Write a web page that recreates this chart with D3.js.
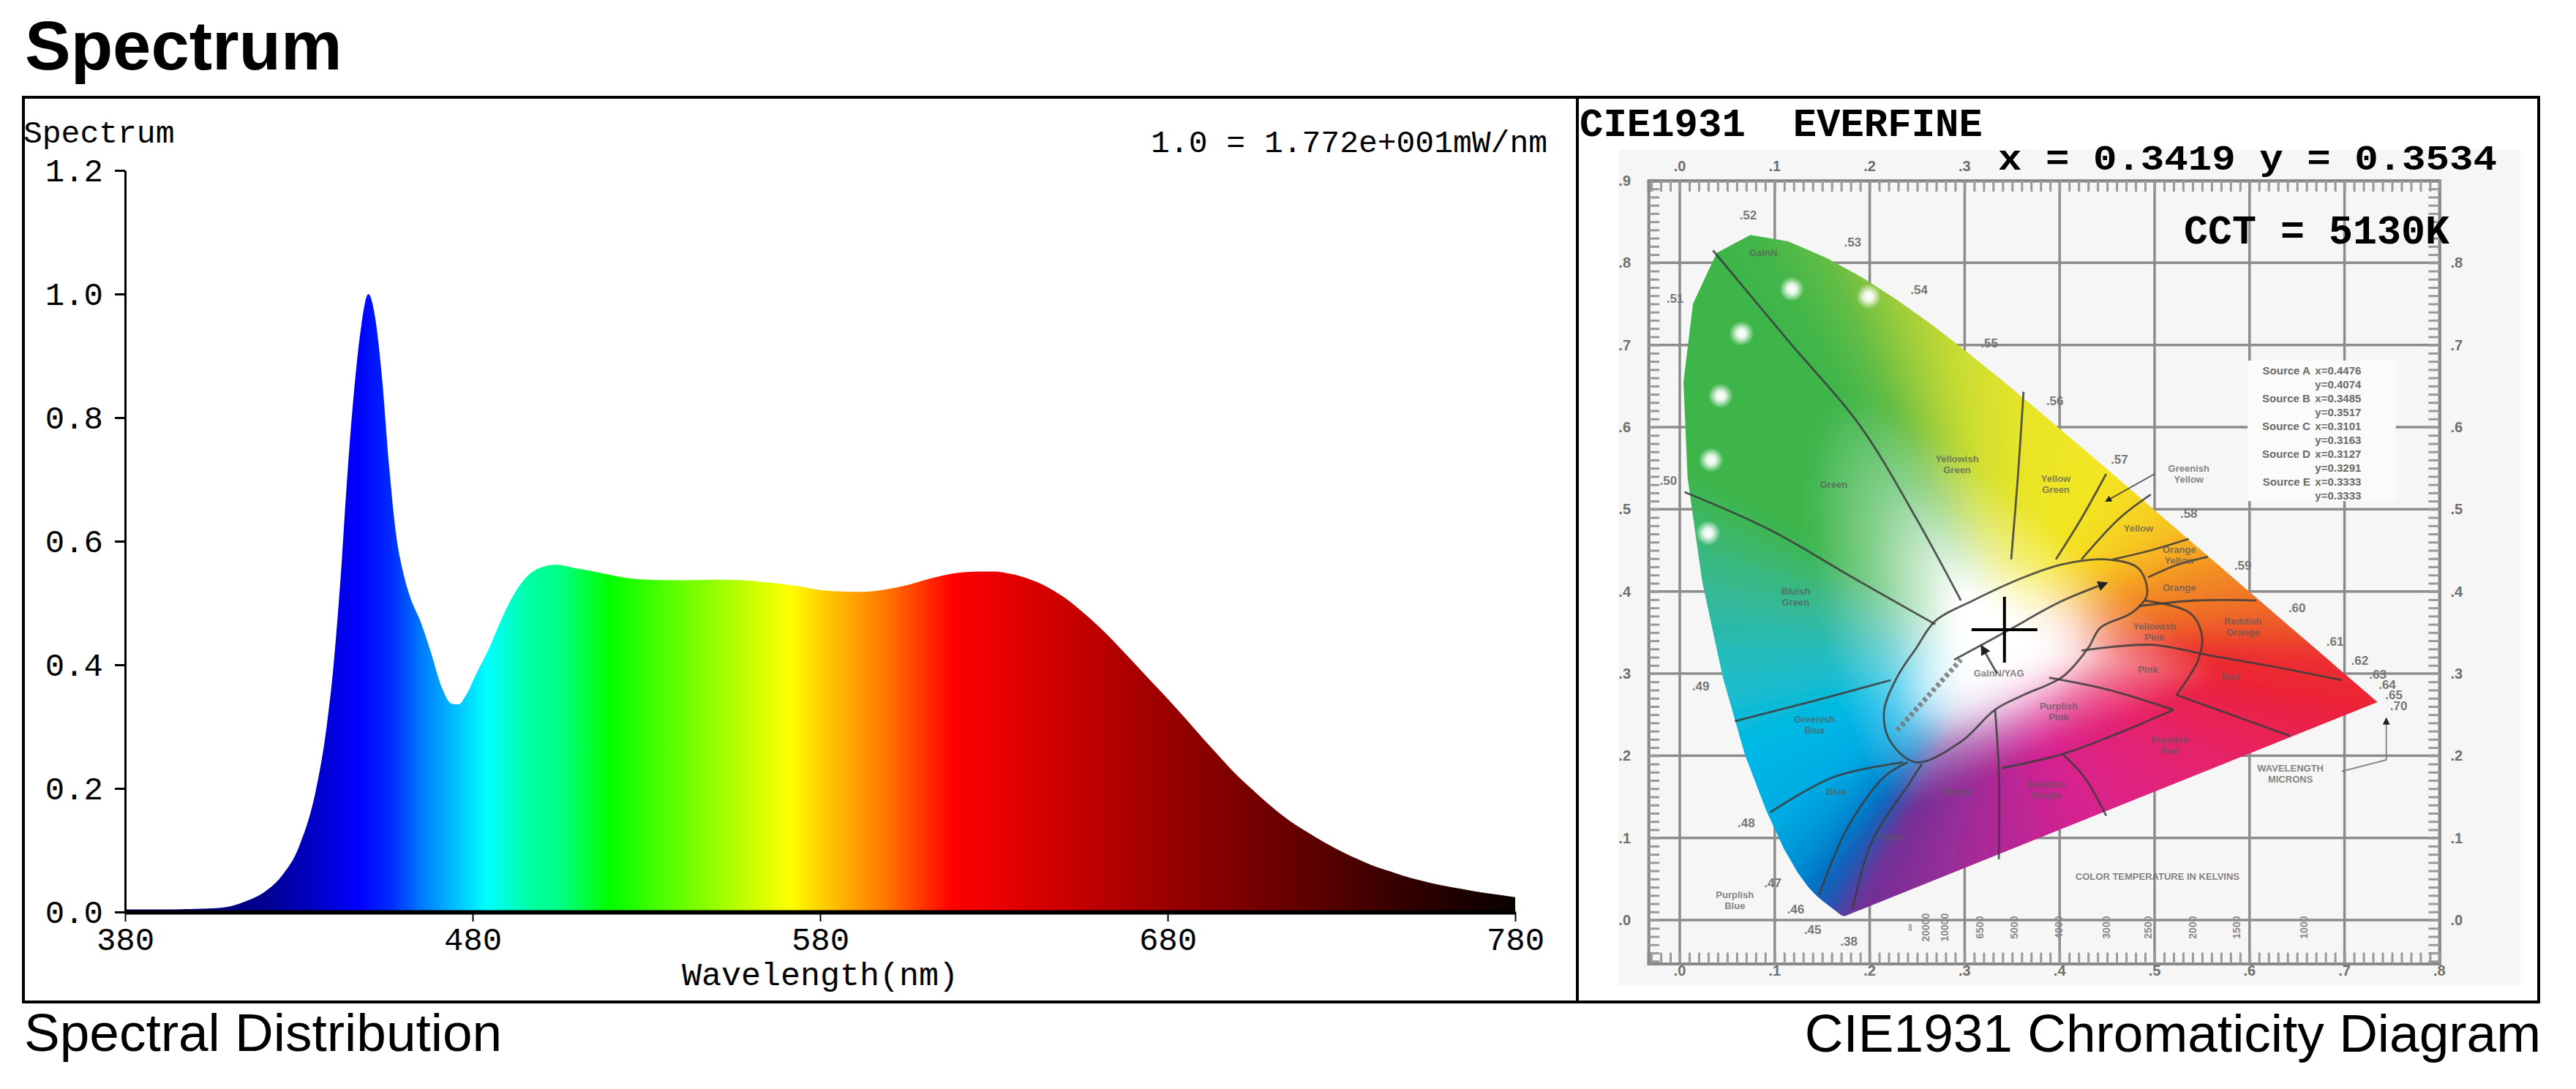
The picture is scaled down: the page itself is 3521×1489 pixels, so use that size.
<!DOCTYPE html>
<html>
<head>
<meta charset="utf-8">
<script src="https://cdn.jsdelivr.net/npm/d3@7"></script>
<style>
  body { margin: 0; background: #fff; }
  svg { display: block; }
</style>
</head>
<body>
<svg id="chart" width="3521" height="1489"></svg>
<script>
// ---------- spectral distribution
const wavelengths = [380, 390, 400, 405, 410, 415, 420, 425, 430, 435, 438, 440, 442, 444, 446, 448, 450,
  452, 454, 456, 458, 460, 462, 465, 468, 471, 474, 476, 478, 481, 485, 488, 492, 496, 500, 504,
  510, 515, 520, 525, 530, 535, 540, 550, 560, 565, 570, 575, 580, 585, 590, 595, 600, 605, 610,
  615, 620, 625, 630, 635, 640, 645, 650, 655, 660, 665, 670, 675, 680, 685, 690, 695, 700, 705,
  710, 715, 720, 725, 730, 735, 740, 745, 750, 755, 760, 765, 770, 775, 780];
const intensity = [0.004, 0.004, 0.005, 0.006, 0.009, 0.018, 0.032, 0.058, 0.105, 0.20, 0.30, 0.40, 0.54, 0.71, 0.85, 0.95, 1.00,
  0.96, 0.86, 0.72, 0.61, 0.55, 0.51, 0.47, 0.42, 0.365, 0.337, 0.336, 0.350, 0.385, 0.43, 0.47, 0.515, 0.545, 0.558, 0.562,
  0.556, 0.551, 0.545, 0.540, 0.538, 0.537, 0.537, 0.538, 0.536, 0.533, 0.530, 0.526, 0.521, 0.519, 0.518, 0.519, 0.523, 0.529, 0.537,
  0.544, 0.549, 0.551, 0.551, 0.547, 0.539, 0.527, 0.510, 0.488, 0.463, 0.435, 0.405, 0.375, 0.345, 0.314, 0.282, 0.251, 0.221, 0.195,
  0.170, 0.148, 0.130, 0.113, 0.098, 0.085, 0.073, 0.064, 0.055, 0.048, 0.042, 0.037, 0.032, 0.028, 0.024];
const specTicksY = [0, 0.2, 0.4, 0.6, 0.8, 1.0, 1.2];
const specTicksX = [380, 480, 580, 680, 780];

// colour of the fill under the curve, by wavelength
const specColorW = [380, 420, 435, 447, 456, 466, 474, 484, 497, 506, 519, 547, 571, 590, 600, 618, 650, 680, 720, 750, 780];
const specColorC = ['#000068', '#000090', '#0000c8', '#0000ff', '#0028ff', '#0080ff', '#00b8ff', '#00ffff', '#00ffa0', '#00ff80',
  '#00ff00', '#88ff00', '#ffff00', '#ffa000', '#ff7000', '#ff0000', '#cc0000', '#990000', '#600000', '#300000', '#0a0000'];

// ---------- CIE 1931 spectral locus
const locusW = [380, 385, 390, 395, 400, 405, 410, 415, 420, 425, 430, 435, 440, 445, 450, 455, 460, 465, 470, 475,
  480, 485, 490, 495, 500, 505, 510, 515, 520, 525, 530, 535, 540, 545, 550, 555, 560, 565, 570, 575, 580, 585,
  590, 595, 600, 605, 610, 615, 620, 625, 630, 635, 640, 645, 650, 655, 660, 665, 670, 675, 680, 685, 690, 695, 700];
const locusX = [0.1741, 0.1740, 0.1738, 0.1736, 0.1733, 0.1730, 0.1726, 0.1721, 0.1714, 0.1703, 0.1689, 0.1669, 0.1644, 0.1611,
  0.1566, 0.1510, 0.1440, 0.1355, 0.1241, 0.1096, 0.0913, 0.0687, 0.0454, 0.0235, 0.0082, 0.0039, 0.0139, 0.0389, 0.0743,
  0.1142, 0.1547, 0.1929, 0.2296, 0.2658, 0.3016, 0.3373, 0.3731, 0.4087, 0.4441, 0.4788, 0.5125, 0.5448, 0.5752, 0.6029,
  0.6270, 0.6482, 0.6658, 0.6801, 0.6915, 0.7006, 0.7079, 0.7140, 0.7190, 0.7230, 0.7260, 0.7283, 0.7300, 0.7311, 0.7320,
  0.7327, 0.7334, 0.7340, 0.7344, 0.7346, 0.7347];
const locusY = [0.0050, 0.0050, 0.0049, 0.0049, 0.0048, 0.0048, 0.0048, 0.0048, 0.0051, 0.0058, 0.0069, 0.0086, 0.0109, 0.0138,
  0.0177, 0.0227, 0.0297, 0.0399, 0.0578, 0.0868, 0.1327, 0.2007, 0.2950, 0.4127, 0.5384, 0.6548, 0.7502, 0.8120, 0.8338,
  0.8262, 0.8059, 0.7816, 0.7543, 0.7243, 0.6923, 0.6589, 0.6245, 0.5896, 0.5547, 0.5202, 0.4866, 0.4544, 0.4242, 0.3965,
  0.3725, 0.3514, 0.3340, 0.3197, 0.3083, 0.2993, 0.2920, 0.2859, 0.2809, 0.2770, 0.2740, 0.2717, 0.2700, 0.2689, 0.2680,
  0.2673, 0.2666, 0.2660, 0.2654, 0.2654, 0.2653];

// printed colour of the diagram along the locus and along the purple line
const cieHueW = [380, 440, 460, 470, 478, 485, 490, 495, 500, 520, 530, 540, 550, 560, 570, 575, 580, 585, 590, 600, 610, 620, 700];
const cieHueC = ['#6a3096', '#3a46a8', '#0a64bc', '#0088d0', '#00a8e2', '#00b8e6', '#20bcc8', '#38b890', '#3cb54a', '#3fb54a',
  '#60bc44', '#9ccc3c', '#cede30', '#e8e428', '#f2e622', '#f5dc20', '#f6c820', '#f5a824', '#f28a24', '#ee6428', '#ec3e2c',
  '#ec2a30', '#ec2233'];
const purpleT = [0, 0.3, 0.55, 0.8, 1];
const purpleC = ['#ec2233', '#e6206a', '#d82090', '#9a2c98', '#6a3096'];

const measured = { x: 0.3419, y: 0.3534 };

const cieXLabels = ['.0', '.1', '.2', '.3', '.4', '.5', '.6', '.7', '.8'];
const cieYLabels = ['.0', '.1', '.2', '.3', '.4', '.5', '.6', '.7', '.8', '.9'];

// wavelength marks printed round the locus
const waveMarks = [['.52', 0.072, 0.858], ['.53', 0.182, 0.825], ['.54', 0.252, 0.767], ['.55', 0.326, 0.702],
  ['.56', 0.395, 0.632], ['.57', 0.463, 0.561], ['.58', 0.536, 0.495], ['.59', 0.593, 0.432], ['.60', 0.650, 0.380],
  ['.61', 0.690, 0.339], ['.62', 0.716, 0.316], ['.63', 0.735, 0.299], ['.64', 0.745, 0.287], ['.65', 0.752, 0.274],
  ['.70', 0.757, 0.261], ['.51', -0.005, 0.757], ['.50', -0.012, 0.535], ['.49', 0.022, 0.285], ['.48', 0.070, 0.118],
  ['.47', 0.098, 0.045], ['.46', 0.122, 0.013], ['.45', 0.140, -0.012], ['.38', 0.178, -0.026]];

// colour region names of the chart
const regionNames = [['GaInN', 0.088, 0.808], ['Green', 0.162, 0.526], ['Yellowish\nGreen', 0.292, 0.557],
  ['Yellow\nGreen', 0.396, 0.533], ['Greenish\nYellow', 0.536, 0.546], ['Yellow', 0.483, 0.473],
  ['Orange\nYellow', 0.526, 0.447], ['Orange', 0.526, 0.401], ['Reddish\nOrange', 0.593, 0.360],
  ['Yellowish\nPink', 0.500, 0.353], ['Pink', 0.493, 0.301], ['Red', 0.580, 0.292], ['Purplish\nPink', 0.399, 0.256],
  ['Purplish\nRed', 0.516, 0.215], ['Reddish\nPurple', 0.386, 0.161], ['Purple', 0.292, 0.152], ['Violet', 0.222, 0.097],
  ['Blue', 0.165, 0.152], ['Greenish\nBlue', 0.142, 0.240], ['Bluish\nGreen', 0.122, 0.396], ['Purplish\nBlue', 0.058, 0.027],
  ['GaInN/YAG', 0.336, 0.296], ['WAVELENGTH\nMICRONS', 0.643, 0.181], ['COLOR TEMPERATURE IN KELVINS', 0.503, 0.049]];

// boundaries between colour regions, in chromaticity units
const regionLines = [
  [[0.035, 0.815], [0.115, 0.704], [0.189, 0.603], [0.249, 0.489], [0.296, 0.389]],
  [[0.005, 0.521], [0.095, 0.475], [0.182, 0.417], [0.269, 0.360]],
  [[0.058, 0.242], [0.142, 0.267], [0.222, 0.292]],
  [[0.095, 0.131], [0.162, 0.174], [0.235, 0.192]],
  [[0.147, 0.031], [0.175, 0.109], [0.215, 0.174], [0.240, 0.192]],
  [[0.182, 0.013], [0.202, 0.095], [0.242, 0.167], [0.255, 0.190]],
  [[0.336, 0.074], [0.336, 0.181], [0.332, 0.256]],
  [[0.449, 0.127], [0.426, 0.174], [0.403, 0.202]],
  [[0.339, 0.185], [0.403, 0.202], [0.463, 0.228], [0.520, 0.256]],
  [[0.523, 0.274], [0.583, 0.249], [0.643, 0.224]],
  [[0.423, 0.328], [0.496, 0.335], [0.563, 0.321], [0.637, 0.306], [0.697, 0.292]],
  [[0.490, 0.389], [0.537, 0.374], [0.550, 0.346], [0.546, 0.317], [0.523, 0.274]],
  [[0.389, 0.295], [0.449, 0.281], [0.520, 0.256]],
  [[0.483, 0.382], [0.543, 0.389], [0.607, 0.389]],
  [[0.493, 0.417], [0.523, 0.432], [0.556, 0.442]],
  [[0.456, 0.439], [0.496, 0.450], [0.536, 0.464]],
  [[0.423, 0.439], [0.463, 0.489], [0.496, 0.518]],
  [[0.396, 0.439], [0.423, 0.489], [0.449, 0.543]],
  [[0.349, 0.439], [0.356, 0.539], [0.362, 0.643]]
];
const whiteLoop = [[0.269, 0.364], [0.309, 0.389], [0.362, 0.417], [0.403, 0.433], [0.449, 0.439], [0.483, 0.428],
  [0.492, 0.396], [0.476, 0.374], [0.443, 0.356], [0.430, 0.331], [0.403, 0.296], [0.362, 0.274], [0.332, 0.256],
  [0.296, 0.217], [0.249, 0.192], [0.222, 0.217], [0.215, 0.253], [0.229, 0.296], [0.249, 0.331]];
const planckLine = [[0.289, 0.317], [0.345, 0.352], [0.400, 0.387], [0.449, 0.410]];
const daylightLine = [[0.229, 0.231], [0.296, 0.317]];

const sourceNames = ['Source A', '', 'Source B', '', 'Source C', '', 'Source D', '', 'Source E', ''];
const sourceValues = ['x=0.4476', 'y=0.4074', 'x=0.3485', 'y=0.3517', 'x=0.3101', 'y=0.3163', 'x=0.3127', 'y=0.3291', 'x=0.3333', 'y=0.3333'];

const cctMarks = ['\u221e', '20000', '10000', '6500', '5000', '4000', '3000', '2500', '2000', '1500', '1000'];
const cctMarkX = [0.242, 0.259, 0.279, 0.316, 0.352, 0.399, 0.449, 0.493, 0.540, 0.586, 0.657];

const ledDots = [[0.118, 0.768], [0.199, 0.759], [0.065, 0.714], [0.043, 0.638], [0.033, 0.560], [0.030, 0.471]];

// ---------- drawing
const svg = d3.select('#chart');
const defs = svg.append('defs');
const sans = '"Liberation Sans", Arial, sans-serif';
const mono = '"Liberation Mono", "Courier New", monospace';

svg.append('rect').attr('width', 3521).attr('height', 1489).attr('fill', '#fff');

// page title and captions
svg.append('text').attr('x', 34).attr('y', 95).attr('font-family', sans).attr('font-weight', 'bold')
  .attr('font-size', 94).text('Spectrum');
svg.append('text').attr('x', 33).attr('y', 1437).attr('font-family', sans).attr('font-size', 73)
  .text('Spectral Distribution');
svg.append('text').attr('x', 3473).attr('y', 1438).attr('font-family', sans).attr('font-size', 73)
  .attr('text-anchor', 'end').text('CIE1931 Chromaticity Diagram');

// ---------- left: spectrum
const x = d3.scaleLinear().domain([380, 780]).range([171, 2071]);
const y = d3.scaleLinear().domain([0, 1.2]).range([1247, 233]);

const specGrad = defs.append('linearGradient').attr('id', 'specFill')
  .attr('gradientUnits', 'userSpaceOnUse')
  .attr('x1', x(380)).attr('x2', x(780)).attr('y1', 0).attr('y2', 0);
specGrad.selectAll('stop').data(specColorW).join('stop')
  .attr('offset', w => (w - 380) / 400)
  .attr('stop-color', (w, i) => specColorC[i]);

const area = d3.area()
  .x(d => x(d[0]))
  .y0(y(0))
  .y1(d => y(d[1]))
  .curve(d3.curveMonotoneX);

svg.append('path')
  .datum(d3.zip(wavelengths, intensity))
  .attr('d', area)
  .attr('fill', 'url(#specFill)');

const yAxis = svg.append('g').attr('transform', `translate(${x(380)},0)`)
  .call(d3.axisLeft(y).tickValues(specTicksY).tickFormat(d3.format('.1f'))
    .tickSize(14).tickSizeOuter(0).tickPadding(16));
yAxis.selectAll('path, line').attr('stroke', '#000').attr('stroke-width', 3);
yAxis.selectAll('text').attr('font-family', mono).attr('font-size', 44).attr('fill', '#000');

const xAxis = svg.append('g').attr('transform', `translate(0,${y(0)})`)
  .call(d3.axisBottom(x).tickValues(specTicksX).tickFormat(d3.format('d'))
    .tickSize(13).tickSizeOuter(0).tickPadding(8));
xAxis.select('.domain').attr('stroke', '#000').attr('stroke-width', 6);
xAxis.selectAll('line').attr('stroke', '#000').attr('stroke-width', 2);
xAxis.selectAll('text').attr('font-family', mono).attr('font-size', 44).attr('fill', '#000');

svg.append('text').attr('x', 32).attr('y', 195).attr('font-family', mono).attr('font-size', 43).text('Spectrum');
svg.append('text').attr('x', 2115).attr('y', 208).attr('font-family', mono).attr('font-size', 43)
  .attr('text-anchor', 'end').text('1.0 = 1.772e+001mW/nm');
svg.append('text').attr('x', 1121).attr('y', 1347).attr('font-family', mono).attr('font-size', 45)
  .attr('text-anchor', 'middle').text('Wavelength(nm)');

// ---------- right: CIE 1931 chart
const cx = d3.scaleLinear().domain([0, 0.8]).range([2296, 3334.4]);
const cy = d3.scaleLinear().domain([0, 0.9]).range([1258, 247]);
const pt = d => [cx(d[0]), cy(d[1])];

const cie = svg.append('g');
cie.append('rect').attr('x', 2212).attr('y', 205).attr('width', 1233).attr('height', 1143).attr('fill', '#f6f6f6');

// grid
const grid = cie.append('g').attr('stroke', '#8c8c8c').attr('stroke-width', 3.5);
grid.selectAll('.gx').data(cieXLabels).join('line')
  .attr('x1', (d, i) => cx(i / 10)).attr('x2', (d, i) => cx(i / 10))
  .attr('y1', cy(-0.053)).attr('y2', cy(0.9));
grid.selectAll('.gy').data(cieYLabels).join('line')
  .attr('y1', (d, i) => cy(i / 10)).attr('y2', (d, i) => cy(i / 10))
  .attr('x1', cx(-0.033)).attr('x2', cx(0.8));

// rulers on the four frame edges
const cxF = d3.scaleLinear().domain([-0.033, 0.8]).range([cx(-0.033), cx(0.8)]);
const cyF = d3.scaleLinear().domain([-0.053, 0.9]).range([cy(-0.053), cy(0.9)]);
const fineX = d3.range(-3, 81).map(i => i / 100);
const fineY = d3.range(-5, 91).map(i => i / 100);
const rulers = [
  cie.append('g').attr('transform', `translate(${cx(-0.033)},0)`).call(d3.axisRight(cyF).tickValues(fineY).tickSize(15).tickFormat('')),
  cie.append('g').attr('transform', `translate(${cx(0.8)},0)`).call(d3.axisLeft(cyF).tickValues(fineY).tickSize(15).tickFormat('')),
  cie.append('g').attr('transform', `translate(0,${cy(-0.053)})`).call(d3.axisTop(cxF).tickValues(fineX).tickSize(15).tickFormat('')),
  cie.append('g').attr('transform', `translate(0,${cy(0.9)})`).call(d3.axisBottom(cxF).tickValues(fineX).tickSize(15).tickFormat(''))
];
rulers.forEach(r => {
  r.select('.domain').attr('stroke', '#888').attr('stroke-width', 4);
  r.selectAll('line').attr('stroke', '#999').attr('stroke-width', 3);
});

// frame labels
const frameText = cie.append('g').attr('font-family', sans).attr('font-weight', 'bold')
  .attr('font-size', 20).attr('fill', '#6e6e6e').attr('text-anchor', 'middle');
frameText.selectAll('.lb').data(cieXLabels).join('text')
  .attr('x', (d, i) => cx(i / 10)).attr('y', cy(-0.068)).text(d => d);
frameText.selectAll('.lt').data(cieXLabels.slice(0, 4)).join('text')
  .attr('x', (d, i) => cx(i / 10)).attr('y', cy(0.912)).text(d => d);
frameText.selectAll('.ll').data(cieYLabels).join('text')
  .attr('x', cx(-0.058)).attr('y', (d, i) => cy(i / 10) + 7).text(d => d);
frameText.selectAll('.lr').data(cieYLabels.slice(0, 9)).join('text')
  .attr('x', cx(0.818)).attr('y', (d, i) => cy(i / 10) + 7).text(d => d);

// source legend
cie.append('rect').attr('x', cx(0.598)).attr('y', cy(0.681)).attr('width', cx(0.754) - cx(0.598))
  .attr('height', cy(0.51) - cy(0.681)).attr('fill', '#fbfbfb');
const legend = cie.append('g').attr('font-family', sans).attr('font-weight', 'bold').attr('font-size', 15).attr('fill', '#6a6a6a');
legend.selectAll('.sn').data(sourceNames).join('text')
  .attr('x', cx(0.664)).attr('y', (d, i) => cy(0.664) + i * 19).attr('text-anchor', 'end').text(d => d);
legend.selectAll('.sv').data(sourceValues).join('text')
  .attr('x', cx(0.669)).attr('y', (d, i) => cy(0.664) + i * 19).text(d => d);

// coloured horseshoe: a fan of thin triangles from the white point, each shaded white -> printed colour
const hue = d3.scaleLinear().domain(cieHueW).range(cieHueC).interpolate(d3.interpolateRgb);
const purple = d3.scaleLinear().domain(purpleT).range(purpleC).interpolate(d3.interpolateRgb);
const edge = [];
locusW.forEach((w, i) => {
  if (i === locusW.length - 1) { edge.push({ p: [locusX[i], locusY[i]], c: hue(w) }); return; }
  // split each 5 nm step in three so the fan stays fine
  [0, 1 / 3, 2 / 3].forEach(t => edge.push({
    p: [locusX[i] + (locusX[i + 1] - locusX[i]) * t, locusY[i] + (locusY[i + 1] - locusY[i]) * t],
    c: hue(w + 5 * t)
  }));
});
const pEnd = edge[edge.length - 1].p, pStart = edge[0].p;
d3.range(1, 30).forEach(k => {
  const t = k / 30;
  edge.push({ p: [pEnd[0] + (pStart[0] - pEnd[0]) * t, pEnd[1] + (pStart[1] - pEnd[1]) * t], c: purple(t) });
});
const wp = [0.332, 0.338];
const grow = (p, f) => [wp[0] + (p[0] - wp[0]) * f, wp[1] + (p[1] - wp[1]) * f];

defs.append('clipPath').attr('id', 'locusClip').append('path')
  .attr('d', d3.line()(locusX.map((v, i) => pt([v, locusY[i]]))) + 'Z');
const soft = defs.append('filter').attr('id', 'soft').attr('x', '-10%').attr('y', '-10%').attr('width', '120%').attr('height', '120%');
soft.append('feGaussianBlur').attr('stdDeviation', 10);
const glow = defs.append('filter').attr('id', 'glow').attr('x', '-50%').attr('y', '-50%').attr('width', '200%').attr('height', '200%');
glow.append('feGaussianBlur').attr('stdDeviation', 30);

const fan = edge.map((e, i) => {
  const n = edge[(i + 1) % edge.length];
  const mid = [(e.p[0] + n.p[0]) / 2, (e.p[1] + n.p[1]) / 2];
  const c = d3.interpolateRgb(e.c, n.c)(0.5);
  return { a: grow(e.p, 1.12), b: grow(n.p, 1.12), mid, c, i };
});
fan.forEach(f => {
  const g = defs.append('linearGradient').attr('id', 'fan' + f.i).attr('gradientUnits', 'userSpaceOnUse')
    .attr('x1', cx(wp[0])).attr('y1', cy(wp[1])).attr('x2', cx(f.mid[0])).attr('y2', cy(f.mid[1]));
  [[0, '#ffffff'], [0.12, '#ffffff'], [0.38, d3.interpolateRgb('#fff', f.c)(0.62)], [0.6, f.c], [1, f.c]]
    .forEach(s => g.append('stop').attr('offset', s[0]).attr('stop-color', s[1]));
});
const colourArea = cie.append('g').attr('clip-path', 'url(#locusClip)');
const fanGroup = colourArea.append('g').attr('filter', 'url(#soft)');
fanGroup.selectAll('path').data(fan).join('path')
  .attr('d', f => d3.line()([pt(wp), pt(f.a), pt(f.b)]) + 'Z')
  .attr('fill', f => `url(#fan${f.i})`)
  .attr('stroke', f => `url(#fan${f.i})`)
  .attr('stroke-width', 2);
colourArea.append('ellipse')
  .attr('cx', cx(0.34)).attr('cy', cy(0.315)).attr('rx', 130).attr('ry', 62)
  .attr('transform', `rotate(-30,${cx(0.34)},${cy(0.315)})`)
  .attr('fill', '#fff').attr('opacity', 0.7).attr('filter', 'url(#glow)');

// LED dots
const dotGrad = defs.append('radialGradient').attr('id', 'dotGlow');
dotGrad.append('stop').attr('offset', 0).attr('stop-color', '#fff').attr('stop-opacity', 1);
dotGrad.append('stop').attr('offset', 0.35).attr('stop-color', '#fff').attr('stop-opacity', 0.9);
dotGrad.append('stop').attr('offset', 1).attr('stop-color', '#fff').attr('stop-opacity', 0);
colourArea.selectAll('.dot').data(ledDots).join('circle')
  .attr('cx', d => cx(d[0])).attr('cy', d => cy(d[1])).attr('r', 17).attr('fill', 'url(#dotGlow)');

// region boundaries
const lines = cie.append('g').attr('fill', 'none').attr('stroke', '#3c3c3c').attr('stroke-width', 2.8)
  .attr('stroke-opacity', 0.85).attr('stroke-linejoin', 'round');
const curve = d3.line().x(d => cx(d[0])).y(d => cy(d[1])).curve(d3.curveCatmullRom);
lines.selectAll('.rl').data(regionLines).join('path').attr('d', curve);
lines.append('path').datum(whiteLoop)
  .attr('d', d3.line().x(d => cx(d[0])).y(d => cy(d[1])).curve(d3.curveCatmullRomClosed));

defs.append('marker').attr('id', 'arrow').attr('viewBox', '0 0 10 10').attr('refX', 8).attr('refY', 5)
  .attr('markerWidth', 5).attr('markerHeight', 5).attr('orient', 'auto')
  .append('path').attr('d', 'M0,0L10,5L0,10Z').attr('fill', '#222');
lines.append('path').datum(planckLine).attr('d', curve).attr('marker-end', 'url(#arrow)');
lines.append('path').datum(daylightLine).attr('d', curve)
  .attr('stroke', '#777').attr('stroke-width', 7).attr('stroke-dasharray', '5 4');
lines.append('path').datum([[0.334, 0.300], [0.318, 0.333]]).attr('d', curve).attr('marker-end', 'url(#arrow)');
lines.append('path').datum([[0.500, 0.543], [0.449, 0.510]]).attr('d', curve).attr('marker-end', 'url(#arrow)')
  .attr('stroke-width', 1.8);
lines.append('path').datum([[0.697, 0.181], [0.744, 0.195], [0.744, 0.245]])
  .attr('d', d3.line().x(d => cx(d[0])).y(d => cy(d[1]))).attr('marker-end', 'url(#arrow)')
  .attr('stroke', '#777').attr('stroke-width', 2);

// chart annotations
const small = cie.append('g').attr('font-family', sans).attr('font-weight', 'bold').attr('fill', '#5a5a5a').attr('text-anchor', 'middle');
small.selectAll('.wm').data(waveMarks).join('text')
  .attr('x', d => cx(d[1])).attr('y', d => cy(d[2]) + 6).attr('font-size', 17).attr('fill', '#777').text(d => d[0]);
small.selectAll('.rn').data(regionNames).join('text')
  .attr('font-size', 13).attr('fill-opacity', 0.75)
  .attr('transform', d => `translate(${cx(d[1])},${cy(d[2])})`)
  .each(function (d) {
    d3.select(this).selectAll('tspan').data(d[0].split('\n')).join('tspan')
      .attr('x', 0).attr('dy', (t, i) => i === 0 ? 0 : 15).text(t => t);
  });
small.selectAll('.cct').data(cctMarks).join('text')
  .attr('font-size', 14).attr('fill', '#8a8a8a')
  .attr('transform', (d, i) => `translate(${cx(cctMarkX[i]) + 5},${cy(-0.009)}) rotate(-90)`)
  .text(d => d);

// measured chromaticity point
const cross = cie.append('g').attr('stroke', '#000').attr('stroke-width', 4);
cross.append('line').attr('x1', cx(measured.x) - 45).attr('x2', cx(measured.x) + 45)
  .attr('y1', cy(measured.y)).attr('y2', cy(measured.y));
cross.append('line').attr('y1', cy(measured.y) - 45).attr('y2', cy(measured.y) + 45)
  .attr('x1', cx(measured.x)).attr('x2', cx(measured.x));

// panel header texts
cie.append('rect').attr('x', 2158).attr('y', 135).attr('width', 1310).attr('height', 68).attr('fill', '#fff');
cie.append('text').attr('x', 2159).attr('y', 186).attr('font-family', mono).attr('font-weight', 'bold')
  .attr('font-size', 54).attr('xml:space', 'preserve').text('CIE1931  EVERFINE');
cie.append('text').attr('x', 2731).attr('y', 232).attr('font-family', mono).attr('font-weight', 'bold')
  .attr('font-size', 48).attr('textLength', 682).attr('lengthAdjust', 'spacingAndGlyphs')
  .text(`x = ${measured.x.toFixed(4)} y = ${measured.y.toFixed(4)}`);
cie.append('text').attr('x', 2985).attr('y', 333).attr('font-family', mono).attr('font-weight', 'bold')
  .attr('font-size', 55).text('CCT = 5130K');

// ---------- table frame
const frame = svg.append('g').attr('fill', 'none').attr('stroke', '#000').attr('stroke-width', 4);
frame.append('rect').attr('x', 32).attr('y', 133).attr('width', 3470 - 32).attr('height', 1370 - 133);
frame.append('line').attr('x1', 2156).attr('x2', 2156).attr('y1', 133).attr('y2', 1370);
</script>
</body>
</html>
